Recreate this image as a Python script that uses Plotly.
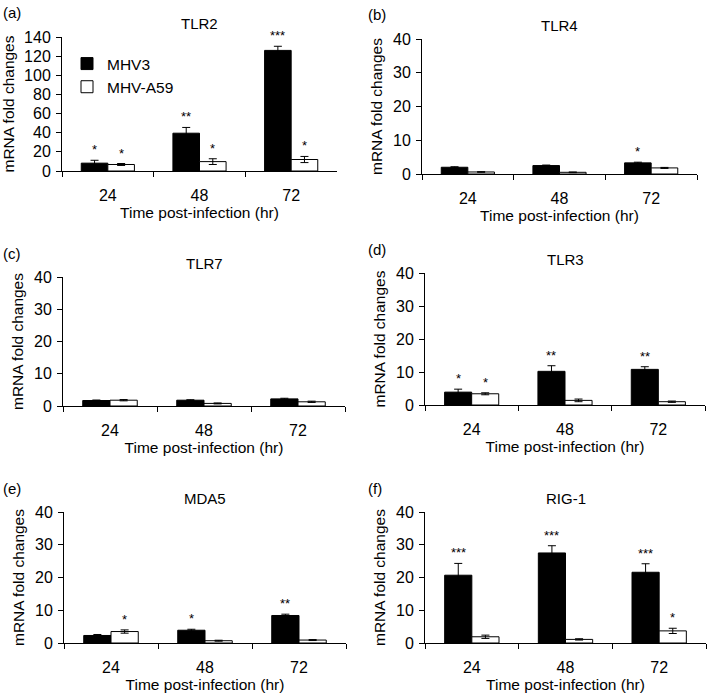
import plotly.graph_objects as go

# ---------------- data ----------------
times = ["24", "48", "72"]
series_names = ["MHV3", "MHV-A59"]

panel_letters = ["(a)", "(b)", "(c)", "(d)", "(e)", "(f)"]
panel_titles = ["TLR2", "TLR4", "TLR7", "TLR3", "MDA5", "RIG-1"]

tlr2_mhv3 = [8.2, 39.5, 126.0]
tlr2_mhv3_err = [3.0, 6.0, 4.3]
tlr2_a59 = [6.8, 9.8, 12.0]
tlr2_a59_err = [1.0, 3.0, 3.2]
tlr2_mhv3_sig = ["*", "**", "***"]
tlr2_a59_sig = ["*", "*", "*"]

tlr4_mhv3 = [2.0, 2.5, 3.3]
tlr4_mhv3_err = [0.15, 0.15, 0.2]
tlr4_a59 = [0.6, 0.5, 1.8]
tlr4_a59_err = [0.1, 0.1, 0.15]
tlr4_mhv3_sig = ["", "", "*"]
tlr4_a59_sig = ["", "", ""]

tlr7_mhv3 = [1.7, 1.8, 2.2]
tlr7_mhv3_err = [0.15, 0.15, 0.2]
tlr7_a59 = [1.8, 0.8, 1.3]
tlr7_a59_err = [0.2, 0.15, 0.2]
tlr7_mhv3_sig = ["", "", ""]
tlr7_a59_sig = ["", "", ""]

tlr3_mhv3 = [3.9, 10.2, 10.8]
tlr3_mhv3_err = [0.9, 1.7, 0.8]
tlr3_a59 = [3.4, 1.4, 1.0]
tlr3_a59_err = [0.3, 0.4, 0.2]
tlr3_mhv3_sig = ["*", "**", "**"]
tlr3_a59_sig = ["*", "", ""]

mda5_mhv3 = [2.3, 3.9, 8.4]
mda5_mhv3_err = [0.3, 0.3, 0.4]
mda5_a59 = [3.5, 0.7, 0.9]
mda5_a59_err = [0.5, 0.15, 0.15]
mda5_mhv3_sig = ["", "*", "**"]
mda5_a59_sig = ["*", "", ""]

rig1_mhv3 = [20.7, 27.5, 21.6]
rig1_mhv3_err = [3.6, 2.2, 2.6]
rig1_a59 = [1.9, 1.1, 3.7]
rig1_a59_err = [0.5, 0.2, 0.8]
rig1_mhv3_sig = ["***", "***", "***"]
rig1_a59_sig = ["", "", "*"]

y_max = [140, 40, 40, 40, 40, 40]
y_dtick = [20, 10, 10, 10, 10, 10]

x_title = "Time post-infection (hr)"
y_title = "mRNA fold changes"

panels = [
    (tlr2_mhv3, tlr2_mhv3_err, tlr2_a59, tlr2_a59_err, tlr2_mhv3_sig, tlr2_a59_sig),
    (tlr4_mhv3, tlr4_mhv3_err, tlr4_a59, tlr4_a59_err, tlr4_mhv3_sig, tlr4_a59_sig),
    (tlr7_mhv3, tlr7_mhv3_err, tlr7_a59, tlr7_a59_err, tlr7_mhv3_sig, tlr7_a59_sig),
    (tlr3_mhv3, tlr3_mhv3_err, tlr3_a59, tlr3_a59_err, tlr3_mhv3_sig, tlr3_a59_sig),
    (mda5_mhv3, mda5_mhv3_err, mda5_a59, mda5_a59_err, mda5_mhv3_sig, mda5_a59_sig),
    (rig1_mhv3, rig1_mhv3_err, rig1_a59, rig1_a59_err, rig1_mhv3_sig, rig1_a59_sig),
]

# ---------------- layout geometry (pixels) ----------------
W, H = 709, 698
# (left, right, top, bottom) of each plot area in px
boxes = [
    (62, 337, 37, 171),
    (422, 697, 39, 174),
    (63, 345, 277, 406),
    (425, 705, 273, 405),
    (64, 346, 512, 643),
    (425, 706, 512, 643),
]
BARGAP = 0.42
FONT = "Liberation Sans, Arial, sans-serif"

fig = go.Figure()
annotations = []
layout_axes = {}

for i, (m, me, a, ae, msig, asig) in enumerate(panels):
    n = i + 1
    xa = "x" if n == 1 else f"x{n}"
    ya = "y" if n == 1 else f"y{n}"
    xkey = "xaxis" if n == 1 else f"xaxis{n}"
    ykey = "yaxis" if n == 1 else f"yaxis{n}"
    l, r, t, b = boxes[i]

    fig.add_trace(go.Bar(
        x=times, y=m, name=series_names[0], xaxis=xa, yaxis=ya,
        marker=dict(color="black", line=dict(color="black", width=1)),
        error_y=dict(type="data", array=me, color="black", thickness=1, width=4),
        showlegend=(i == 0), legendgroup="g1", cliponaxis=False,
    ))
    fig.add_trace(go.Bar(
        x=times, y=a, name=series_names[1], xaxis=xa, yaxis=ya,
        marker=dict(color="white", line=dict(color="black", width=1)),
        error_y=dict(type="data", array=ae, color="black", thickness=1, width=4),
        showlegend=(i == 0), legendgroup="g2", cliponaxis=False,
    ))

    layout_axes[xkey] = dict(
        domain=[l / W, r / W], anchor=ya, type="category", automargin=False,
        showline=True, linecolor="black", linewidth=1,
        ticks="outside", tickson="boundaries", ticklen=5, tickcolor="black",
        showgrid=False, zeroline=False,
        tickfont=dict(size=16, color="black", family=FONT),
        ticklabelstandoff=10,
        title=dict(text=x_title, standoff=1,
                   font=dict(size=15.5, color="black", family=FONT)),
        range=[-0.5, 2.5], fixedrange=True,
    )
    layout_axes[ykey] = dict(
        domain=[1 - b / H, 1 - t / H], anchor=xa, automargin=False,
        range=[0, y_max[i]], dtick=y_dtick[i], tick0=0,
        showline=True, linecolor="black", linewidth=1,
        ticks="outside", ticklen=5, tickcolor="black",
        showgrid=False, zeroline=False,
        ticklabelstandoff=2,
        tickfont=dict(size=16, color="black", family=FONT),
        title=dict(text=y_title, standoff=6,
                   font=dict(size=15.5, color="black", family=FONT)),
        fixedrange=True,
    )

    # panel title (centred over plot area) and letter
    annotations.append(dict(
        text=panel_titles[i], x=(l + r) / 2 / W, y=1 - (t - 14) / H,
        xref="paper", yref="paper", showarrow=False,
        xanchor="center", yanchor="middle",
        font=dict(size=15, color="black", family=FONT)))
    annotations.append(dict(
        text=panel_letters[i], x=(1 if l < 200 else 366) / W, y=1 - (t - 24) / H,
        xref="paper", yref="paper", showarrow=False,
        xanchor="left", yanchor="middle",
        font=dict(size=15, color="black", family=FONT)))

    # significance stars above each error bar
    cat_px = (r - l) / 3.0
    offset = cat_px * (1 - BARGAP) / 4.0
    for j in range(len(times)):
        for vals, errs, sig, sh in ((m, me, msig, -offset), (a, ae, asig, offset)):
            if sig[j]:
                annotations.append(dict(
                    text=sig[j], x=j, y=vals[j] + errs[j], xref=xa, yref=ya,
                    xshift=sh, yshift=1, showarrow=False,
                    xanchor="center", yanchor="bottom",
                    font=dict(size=13, color="black", family=FONT)))

fig.update_layout(
    width=W, height=H,
    margin=dict(l=0, r=0, t=0, b=0, pad=0),
    paper_bgcolor="white", plot_bgcolor="white",
    barmode="group", bargap=BARGAP, bargroupgap=0,
    font=dict(family=FONT, color="black"),
    legend=dict(x=67 / W, y=1 - 47 / H, xanchor="left", yanchor="top",
                bgcolor="rgba(0,0,0,0)", traceorder="grouped",
                tracegroupgap=0, itemwidth=30,
                font=dict(size=15.5, color="black", family=FONT)),
    annotations=annotations,
    **layout_axes,
)

fig.write_html(
    "out.html",
    config={"displayModeBar": False},
    post_script="document.body.style.margin='0';document.body.style.overflow='hidden';",
)
